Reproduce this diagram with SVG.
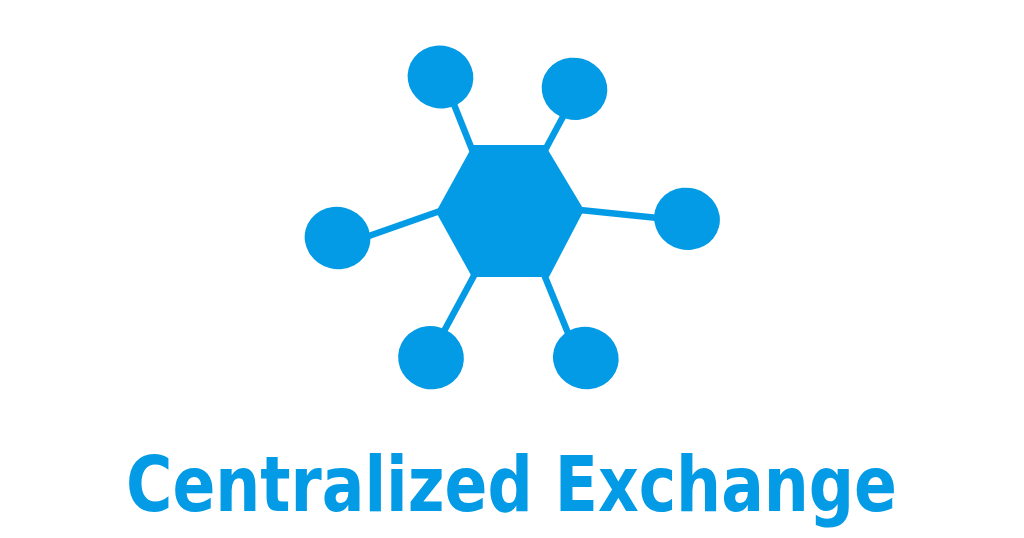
<svg xmlns="http://www.w3.org/2000/svg" width="1024" height="538" viewBox="0 0 1024 538">
<style>
.n{fill:#039BE5}
.c line{stroke:#039BE5;stroke-width:6.5}
.t{fill:#039BE5;font-family:"DejaVu Sans Condensed","DejaVu Sans",sans-serif;font-stretch:condensed;font-weight:bold;font-size:77px}
</style>
<rect width="1024" height="538" fill="#fff"/>
<g class="c" id="connectors">
<line x1="453" y1="102" x2="473" y2="152"/>
<line x1="565" y1="113" x2="544" y2="152"/>
<line x1="580" y1="210" x2="658" y2="218"/>
<line x1="440" y1="211" x2="366" y2="237"/>
<line x1="476" y1="272" x2="443" y2="333"/>
<line x1="543" y1="272" x2="568" y2="333"/>
</g>
<g id="hub"><polygon class="n" points="473,145 545,145 584,210 549,277 472,277 436,212"/></g>
<g id="node-tl"><ellipse class="n" cx="440.5" cy="77" rx="33" ry="31.3" transform="rotate(15 440.5 77)"/></g>
<g id="node-tr"><ellipse class="n" cx="574.5" cy="88.8" rx="33" ry="31" transform="rotate(15 574.5 88.8)"/></g>
<g id="node-r"><ellipse class="n" cx="687" cy="218.8" rx="33" ry="31" transform="rotate(15 687 218.8)"/></g>
<g id="node-l"><ellipse class="n" cx="337.5" cy="238" rx="33" ry="31" transform="rotate(15 337.5 238)"/></g>
<g id="node-bl"><ellipse class="n" cx="431" cy="357.7" rx="33" ry="31.5" transform="rotate(15 431 357.7)"/></g>
<g id="node-br"><ellipse class="n" cx="585.8" cy="358" rx="33" ry="31" transform="rotate(15 585.8 358)"/></g>
<g id="title"><text class="t" x="511.5" y="511" text-anchor="middle" textLength="771" lengthAdjust="spacingAndGlyphs">Centralized Exchange</text></g>
</svg>
